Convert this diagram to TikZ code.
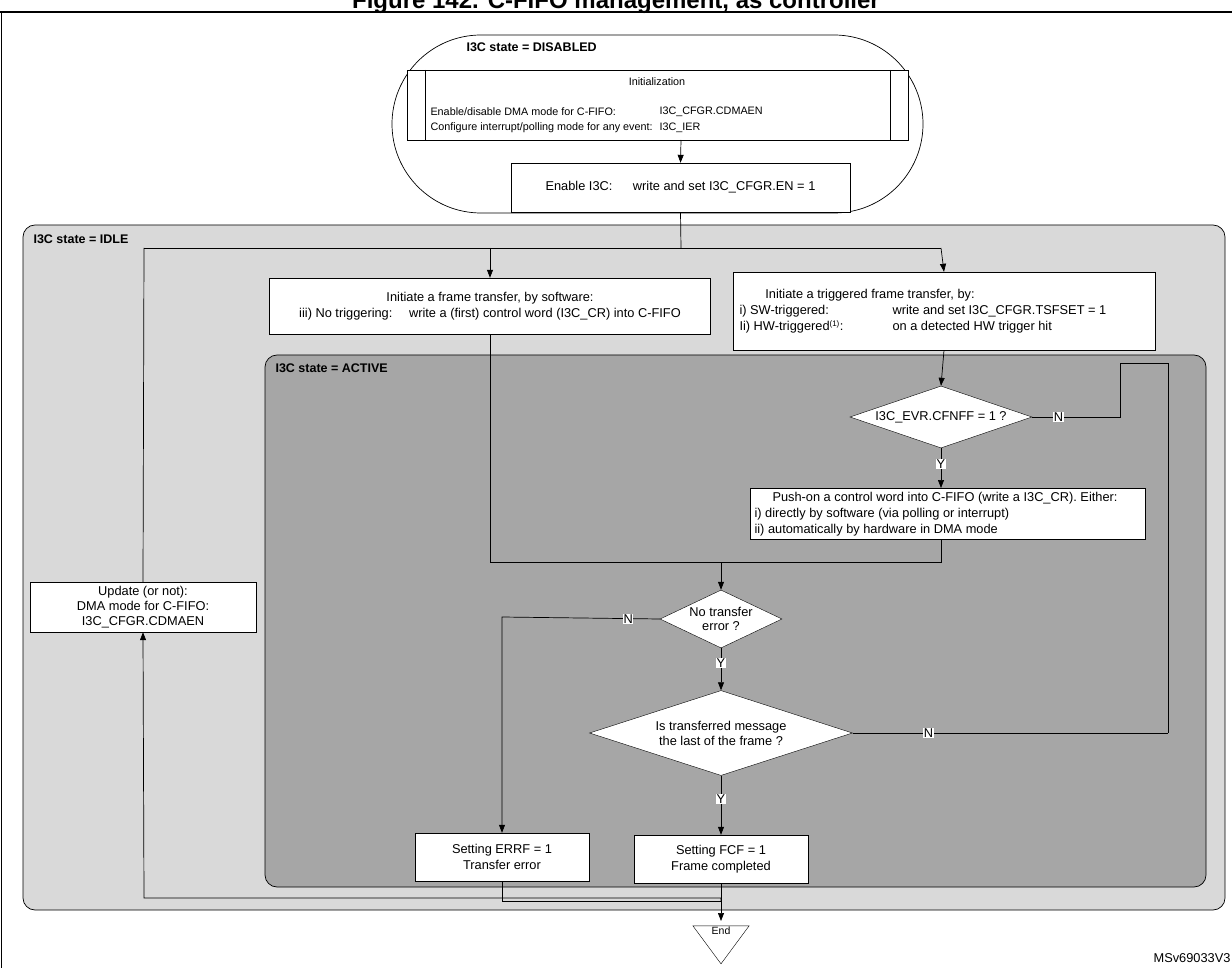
\documentclass[tikz,border=0pt]{standalone}
\usepackage{fontspec}
\setmainfont{Liberation Sans}
\usetikzlibrary{shapes.geometric,arrows.meta}
\begin{document}
\begin{tikzpicture}[x=1pt,y=-1pt,
  font=\fontsize{12.8}{15.5}\selectfont,
  box/.style={draw,fill=white,inner sep=2pt,align=center},
  dia/.style={draw,fill=white,diamond,aspect=3,inner sep=0pt,align=center},
  yn/.style={fill=white,inner sep=0.6pt,font=\fontsize{12.8}{14}\selectfont},
  arr/.style={-{Triangle[length=8pt,width=6pt]}},
  ln/.style={line width=0.7pt},
  small/.style={font=\fontsize{10.8}{13}\selectfont},
  lbl/.style={font=\bfseries\fontsize{12.5}{14}\selectfont,anchor=west}]
\useasboundingbox (0,0) rectangle (1232,968);
\fill[white] (0,0) rectangle (1232,968);
\node[font=\bfseries\fontsize{24}{28}\selectfont,anchor=base] (title) at (616,9) {Figure 142. C-FIFO management, as controller};
\draw[line width=1.2pt] (0,12) -- (1232,12);
\draw[line width=1pt] (1,12) -- (1,968);
% DISABLED
\draw[ln,rounded corners=89] (392,35) rectangle (923,213);
\node[lbl] (dis) at (463,47) {I3C state = DISABLED};
% IDLE
\draw[ln,fill=black!15,rounded corners=12] (23,225) rectangle (1225,910);
\node[lbl] (idle) at (30,239) {I3C state = IDLE};
% init box
\draw[ln,fill=white] (407,70) rectangle (908,140);
\draw[ln] (425,70) -- (425,140) (890,70) -- (890,140);
\node[small] (initt) at (657,82) {Initialization};
\node[small,anchor=west] (i1) at (427,112) {Enable/disable DMA mode for C-FIFO:};
\node[small,anchor=west] (i2) at (427,128) {Configure interrupt/polling mode for any event:};
\node[small,anchor=west] (i3) at (656,112) {I3C\_CFGR.CDMAEN};
\node[small,anchor=west] (i4) at (656,128) {I3C\_IER};
\coordinate (initb) at (681,140);
\node[box,minimum width=339,minimum height=49] (en) at (680.5,187.5) {Enable I3C:\hspace{1.6em}write and set I3C\_CFGR.EN = 1};
\draw[ln,arr] (initb) -- (en.north);
% idle boxes
\node[box,minimum width=441,minimum height=56,font=\fontsize{12.8}{16}\selectfont] (sw) at (490,306) {Initiate a frame transfer, by software:\\iii) No triggering:\hspace{1.3em}write a (first) control word (I3C\_CR) into C-FIFO};
\node[draw,fill=white,minimum width=422,minimum height=78] (hw) at (944,311) {};
\node (hw1) at (870,295) {Initiate a triggered frame transfer, by:};
\node[anchor=west] (hw2) at (736,311) {i) SW-triggered:};
\node[anchor=west] (hw3) at (736,327) {Ii) HW-triggered\textsuperscript{\fontsize{8}{9}\selectfont(1)}:};
\node[anchor=west] (hw4) at (889,311) {write and set I3C\_CFGR.TSFSET = 1};
\node[anchor=west] (hw5) at (889,327) {on a detected HW trigger hit};
\coordinate (j1) at (681,248);
\coordinate (jl) at (490,248);
\coordinate (jr) at (941,248);
\coordinate (ju) at (144,248);
\draw[ln] (en.south) -- (j1);
\draw[ln] (ju) -- (jr);
\draw[ln,arr] (jl) -- (sw.north);
\draw[ln,arr] (jr) -- (hw.north);
\node[box,minimum width=226,minimum height=50,font=\fontsize{12.8}{15}\selectfont] (upd) at (143,607) {Update (or not):\\DMA mode for C-FIFO:\\I3C\_CFGR.CDMAEN};
\draw[ln] (upd.north) -- (ju);
% ACTIVE
\draw[ln,fill=black!35,rounded corners=12] (265,355) rectangle (1206,887);
\node[lbl] (act) at (272,368) {I3C state = ACTIVE};
\node[dia,minimum width=182,minimum height=62] (d1) at (941,417) {I3C\_EVR.CFNFF = 1 ?};
\coordinate (lpa) at (1120,363);
\coordinate (lpb) at (1120,417);
\coordinate (lpc) at (1168,363);
\coordinate (lpd) at (1168,733);
\draw[ln,arr] (hw.south) -- (d1.north);
\draw[ln] (d1.east) -- node[yn,pos=0.3]{N} (lpb) -- (lpa) -- (lpc) -- (lpd);
\node[draw,fill=white,minimum width=395,minimum height=51] (push) at (947.5,513.5) {};
\node (p1) at (945,498) {Push-on a control word into C-FIFO (write a I3C\_CR). Either:};
\node[anchor=west] (p2) at (751,514) {i) directly by software (via polling or interrupt)};
\node[anchor=west] (p3) at (751,530) {ii) automatically by hardware in DMA mode};
\draw[ln,arr] (d1.south) -- node[yn,pos=0.4]{Y} (941,488);
\coordinate (m1) at (941,562);
\coordinate (m2) at (721,562);
\coordinate (m3) at (490,562);
\draw[ln] (941,539) -- (m1) -- (m2);
\draw[ln] (sw.south) -- (m3) -- (m2);
\node[dia,minimum width=122,minimum height=58,aspect=2,font=\fontsize{12.8}{14}\selectfont] (d2) at (721,619) {No transfer\\error ?};
\draw[ln,arr] (m2) -- (d2.north);
\node[dia,minimum width=263,minimum height=85,aspect=3.1,font=\fontsize{12.8}{15}\selectfont] (d3) at (721,733) {Is transferred message\\the last of the frame ?};
\draw[ln,arr] (d2.south) -- node[yn,pos=0.35]{Y} (d3.north);
\draw[ln] (d3.east) -- node[yn,pos=0.24]{N} (lpd);
\node[box,minimum width=174,minimum height=48,font=\fontsize{12.8}{15.5}\selectfont] (err) at (502,857) {Setting ERRF = 1\\Transfer error};
\node[box,minimum width=174,minimum height=48,font=\fontsize{12.8}{15.5}\selectfont] (fcf) at (721,859) {Setting FCF = 1\\Frame completed};
\coordinate (e1) at (502,617);
\draw[ln,arr] (d2.west) -- node[yn,pos=0.2]{N} (e1) -- (err.north);
\draw[ln,arr] (d3.south) -- node[yn,pos=0.4]{Y} (fcf.north);
% End
\node[draw,fill=white,isosceles triangle,shape border rotate=-90,isosceles triangle apex angle=73,minimum height=38,inner sep=0pt] (end) at (721,940) {};
\node[font=\fontsize{10.5}{12}\selectfont] (endt) at (721,931) {End};
\coordinate (b1) at (502,901);
\coordinate (b2) at (721,901);
\coordinate (b3) at (144,898);
\draw[ln] (err.south) -- (b1) -- (b2);
\draw[ln,arr] (fcf.south) -- (721,921);
\draw[ln,arr] (b2) -- (721,898) -- (b3) -- (upd.south);
\node[anchor=east,font=\fontsize{12.8}{14}\selectfont] (ms) at (1234,958) {MSv69033V3};
\end{tikzpicture}
\end{document}
